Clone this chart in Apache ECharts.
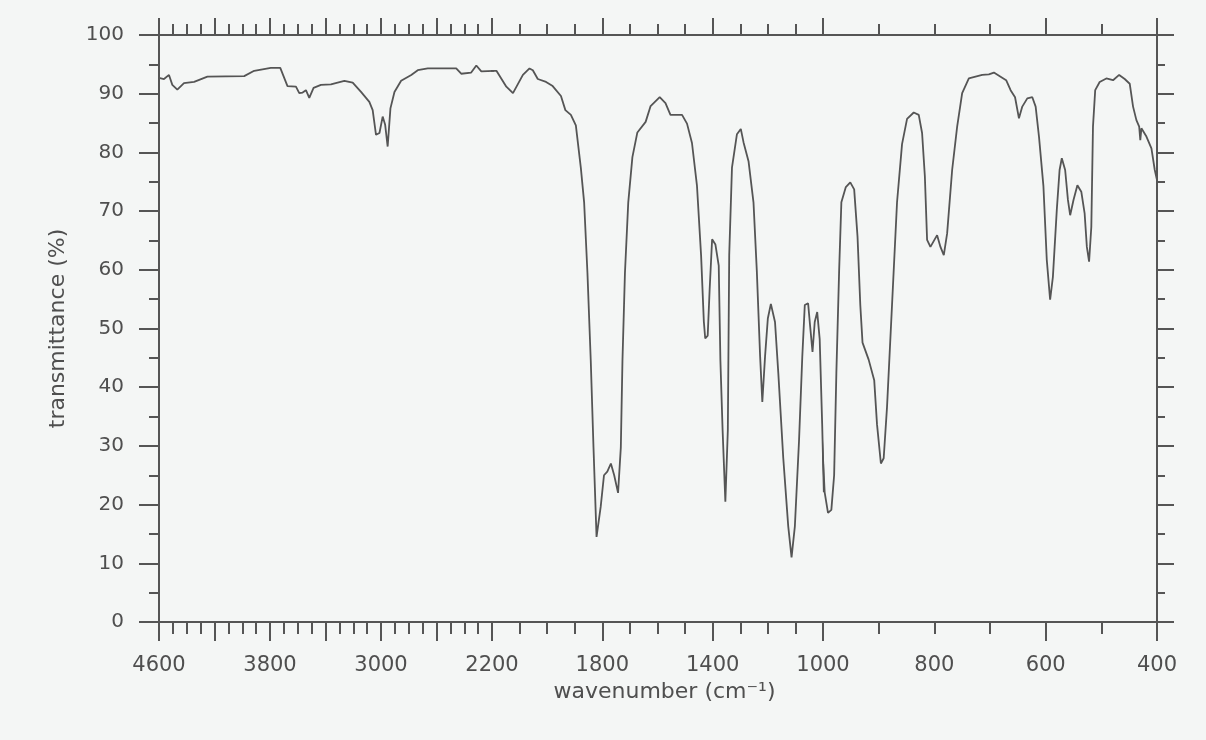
<!DOCTYPE html>
<html>
<head>
<meta charset="utf-8">
<script src="https://cdn.jsdelivr.net/npm/echarts@6/dist/echarts.min.js"></script>
<style>
html,body{margin:0;padding:0;background:#f4f6f5;}
#chart{width:1206px;height:740px;}
</style>
</head>
<body>
<div id="chart"></div>
<script>
// ---- data ----
const wavenumbers = [
  4600,4564,4528,4504,4468,4420,4347,4251,3986,3914,3794,3726,3674,3613,3589,3565,3541,3517,3486,3433,
  3361,3264,3204,3144,3084,3060,3036,3011,2988,2970,2952,2932,2903,2855,2782,2735,2663,2458,2422,2350,
  2313,2277,2184,2148,2124,2088,2064,2052,2034,2004,1980,1950,1934,1914,1896,1878,1866,1854,1842,1832,
  1821,1806,1794,1782,1769,1757,1743,1733,1727,1718,1706,1691,1673,1643,1625,1592,1571,1553,1511,1493,
  1475,1457,1442,1432,1427,1418,1411,1402,1390,1378,1372,1364,1354,1345,1340,1330,1312,1298,1288,1270,
  1252,1240,1228,1220,1210,1200,1189,1174,1162,1144,1126,1114,1102,1087,1075,1066,1054,1048,1038,1030,
  1021,1012,1003,997,991,985,980,976,971,967,959,951,944,938,933,929,918,908,903,896,
  891,885,876,867,858,849,837,828,822,817,813,807,795,789,783,777,768,759,750,738,
  714,702,693,681,671,663,655,648,642,633,624,618,612,604,598,592,587,580,575,571,
  565,560,556,550,543,536,530,526,522,518,515,511,503,491,479,468,458,449,443,437,
  432,430,428,419,410,404,400
];
const transmittance = [
  92.7,92.5,93.2,91.5,90.7,91.8,92.0,92.9,93.0,93.9,94.4,94.4,91.3,91.2,90.1,90.2,90.6,89.3,91.0,91.5,
  91.6,92.2,91.9,90.3,88.6,87.2,83.0,83.3,86.1,84.7,81.0,87.5,90.3,92.2,93.2,94.0,94.3,94.3,93.4,93.6,
  94.8,93.8,93.9,91.2,90.1,93.2,94.3,94.0,92.5,92.0,91.3,89.6,87.2,86.4,84.6,77.4,71.5,59.5,44.6,29.7,
  14.5,19.6,25.0,25.6,27.0,25.0,22.0,29.7,44.6,59.5,71.5,79.2,83.4,85.2,87.9,89.4,88.4,86.4,86.4,84.9,
  81.6,74.4,62.5,51.2,48.3,48.8,56.6,65.2,64.3,60.7,44.6,32.7,20.5,32.7,62.5,77.4,83.1,84.0,81.7,78.5,
  71.5,59.9,45.3,37.5,45.3,51.7,54.2,51.1,42.4,27.9,16.3,11.0,16.3,30.8,45.3,54.0,54.3,51.1,46.0,51.1,
  52.8,48.2,33.7,22.1,18.6,19.1,25.0,42.4,59.9,71.5,74.1,74.9,73.7,65.7,54.0,47.6,44.7,41.2,33.7,27.0,
  27.9,36.6,54.0,71.5,81.4,85.7,86.8,86.4,83.3,75.9,65.1,63.9,65.9,63.9,62.5,66.2,77.0,84.4,90.1,92.6,
  93.2,93.3,93.6,92.9,92.3,90.6,89.4,85.8,87.8,89.2,89.4,87.8,82.7,74.2,61.7,54.9,58.8,70.2,77.0,79.0,
  77.0,71.9,69.3,71.9,74.4,73.3,69.6,63.9,61.4,67.3,84.4,90.6,92.0,92.6,92.3,93.2,92.5,91.7,87.8,85.5,
  84.4,82.1,84.1,82.7,80.7,77.0,75.3
];
// axis breaks: the wavenumber axis uses three linear scales
const segments = [[2200, 4600], [1000, 2200], [400, 1000]];
const xLabels = [[4600, 3800, 3000, 2200], [1800, 1400, 1000], [800, 600, 400]];
const xLongTicks = [[4600, 4200, 3800, 3400, 3000, 2600, 2200], [2200, 1800, 1400, 1000], [1000, 600, 400]];
const xShortTicks = [
  [4500, 4400, 4300, 4100, 4000, 3900, 3700, 3600, 3500, 3300, 3200, 3100, 2900, 2800, 2700, 2500, 2400, 2300],
  [2100, 2000, 1900, 1700, 1600, 1500, 1300, 1200, 1100],
  [900, 800, 700, 500]
];
const yTicks = [0, 10, 20, 30, 40, 50, 60, 70, 80, 90, 100];

const axisColor = '#555555';
const textColor = '#4f4f4f';
const font = 'DejaVu Sans';

const gridBox = [
  { left: 159, width: 333 },
  { left: 492, width: 331 },
  { left: 823, width: 334 }
];

function segData(lo, hi) {
  const out = [];
  const inR = w => w >= lo && w <= hi;
  for (let i = 0; i < wavenumbers.length; i++) {
    if (inR(wavenumbers[i]) || (i > 0 && inR(wavenumbers[i - 1])) || (i < wavenumbers.length - 1 && inR(wavenumbers[i + 1]))) {
      out.push([wavenumbers[i], transmittance[i]]);
    }
  }
  return out;
}

const grids = [], xAxes = [], yAxes = [], series = [];
segments.forEach((seg, g) => {
  grids.push({ left: gridBox[g].left, width: gridBox[g].width, top: 35, bottom: 118, containLabel: false });
  const base = { type: 'value', gridIndex: g, min: seg[0], max: seg[1], inverse: true, splitLine: { show: false } };
  const bottomMain = Object.assign({}, base, {
    position: 'bottom',
    axisLine: { show: true, onZero: false, lineStyle: { color: axisColor, width: 2 } },
    axisTick: { show: true, inside: false, length: 19, customValues: xLongTicks[g], lineStyle: { color: axisColor, width: 2 } },
    axisLabel: { show: true, customValues: xLabels[g], margin: 33, color: textColor, fontFamily: font, fontSize: 21,
      formatter: v => String(v) }
  });
  if (g === 1) {
    bottomMain.name = 'wavenumber (cm\u207B\u00B9)';
    bottomMain.nameLocation = 'middle';
    bottomMain.nameGap = 55;
    bottomMain.nameTextStyle = { color: textColor, fontFamily: font, fontSize: 22, padding: [0, 0, 0, 14] };
  }
  xAxes.push(bottomMain);
  xAxes.push(Object.assign({}, base, {
    position: 'bottom',
    axisLine: { show: false, onZero: false },
    axisTick: { show: true, inside: false, length: 12, customValues: xShortTicks[g], lineStyle: { color: axisColor, width: 2 } },
    axisLabel: { show: false }
  }));
  xAxes.push(Object.assign({}, base, {
    position: 'top',
    axisLine: { show: true, onZero: false, lineStyle: { color: axisColor, width: 2 } },
    axisTick: { show: true, inside: false, length: 17, customValues: xLongTicks[g], lineStyle: { color: axisColor, width: 2 } },
    axisLabel: { show: false }
  }));
  xAxes.push(Object.assign({}, base, {
    position: 'top',
    axisLine: { show: false, onZero: false },
    axisTick: { show: true, inside: false, length: 11, customValues: xShortTicks[g], lineStyle: { color: axisColor, width: 2 } },
    axisLabel: { show: false }
  }));

  const yBase = { type: 'value', gridIndex: g, min: 0, max: 100, interval: 10, splitLine: { show: false } };
  if (g === 0) {
    yAxes.push(Object.assign({}, yBase, {
      position: 'left',
      name: 'transmittance (%)',
      nameLocation: 'middle',
      nameGap: 90,
      nameTextStyle: { color: textColor, fontFamily: font, fontSize: 22 },
      axisLine: { show: true, lineStyle: { color: axisColor, width: 2 } },
      axisTick: { show: true, inside: false, length: 20, lineStyle: { color: axisColor, width: 2 } },
      minorTick: { show: true, splitNumber: 2, length: 10, lineStyle: { color: axisColor, width: 2 } },
      axisLabel: { show: true, margin: 35, color: textColor, fontFamily: font, fontSize: 20,
        formatter: v => (yTicks.indexOf(v) >= 0 ? String(v) : '') }
    }));
  } else if (g === 2) {
    yAxes.push(Object.assign({}, yBase, {
      position: 'right',
      axisLine: { show: true, lineStyle: { color: axisColor, width: 2 } },
      axisTick: { show: true, inside: false, length: 17, lineStyle: { color: axisColor, width: 2 } },
      minorTick: { show: true, splitNumber: 2, length: 8, lineStyle: { color: axisColor, width: 2 } },
      axisLabel: { show: false }
    }));
  } else {
    yAxes.push(Object.assign({}, yBase, { show: false }));
  }

  series.push({
    type: 'line',
    xAxisIndex: g * 4,
    yAxisIndex: g,
    data: segData(seg[0], seg[1]),
    symbol: 'none',
    clip: true,
    lineStyle: { color: '#555555', width: 1.8 },
    silent: true
  });
});

const chart = echarts.init(document.getElementById('chart'), null, { renderer: 'canvas' });
chart.setOption({
  backgroundColor: '#f4f6f5',
  animation: false,
  grid: grids,
  xAxis: xAxes,
  yAxis: yAxes,
  series: series
});
</script>
</body>
</html>
